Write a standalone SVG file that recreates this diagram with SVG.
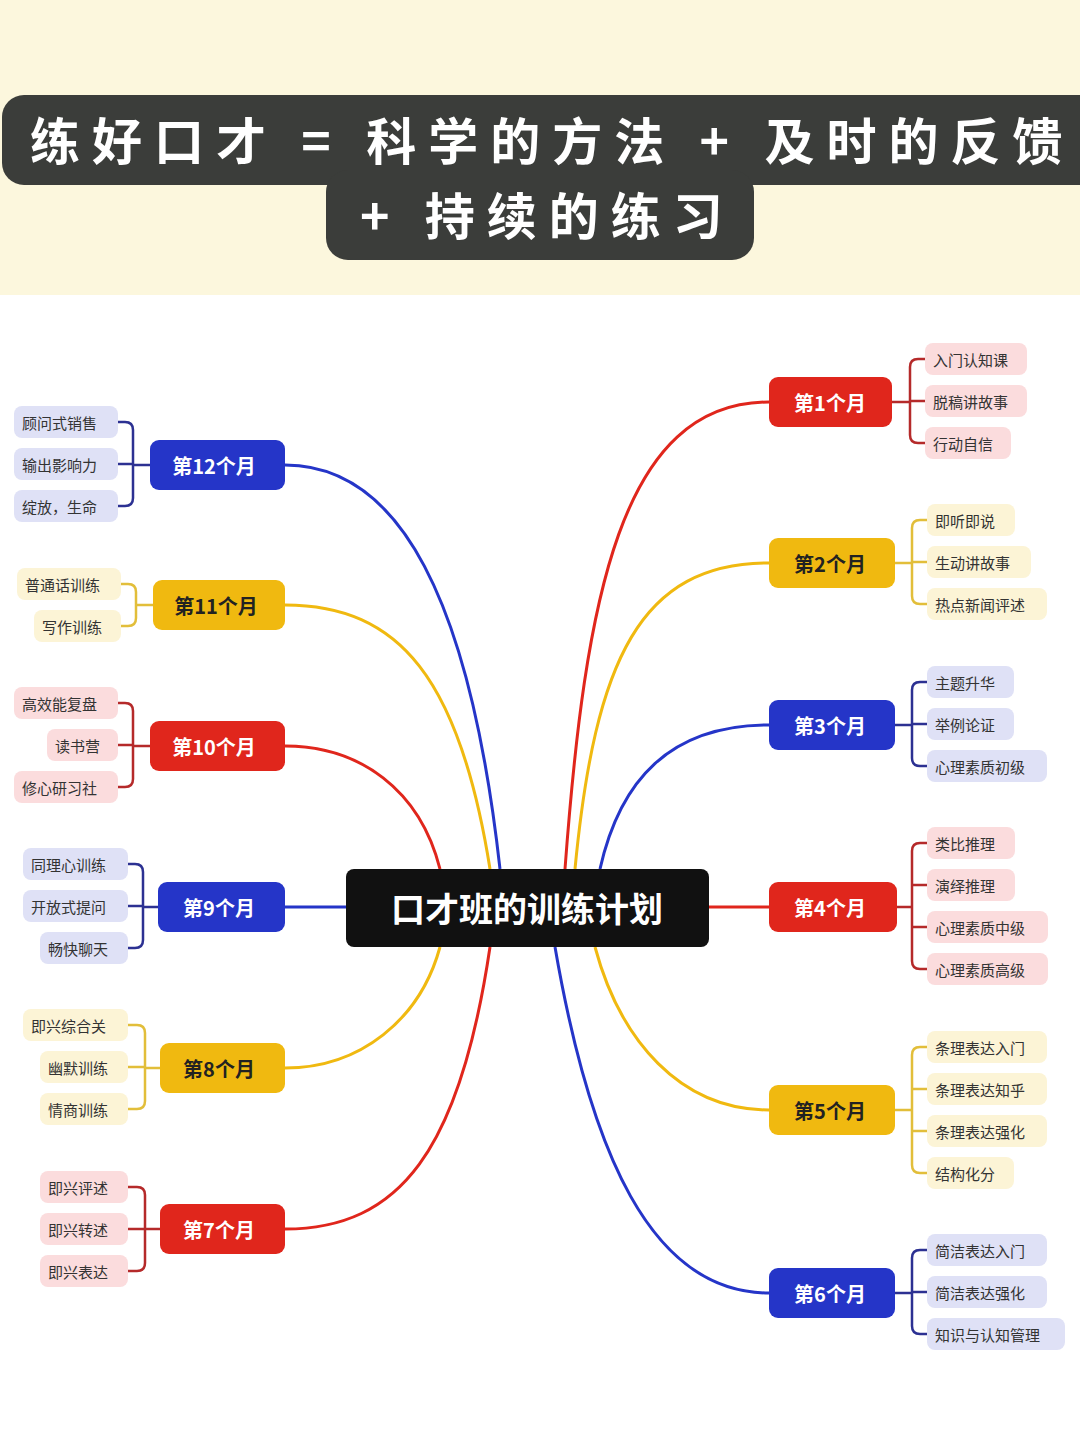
<svg xmlns="http://www.w3.org/2000/svg" width="1080" height="1443" viewBox="0 0 1080 1443">
<style>
.t{font-family:"Noto Sans CJK SC","Noto Sans",sans-serif}
.title{font-size:50px;font-weight:bold;fill:#fff;letter-spacing:12px}
.m{font-size:20px;font-weight:bold;text-anchor:middle;dominant-baseline:central}
.l{font-size:15px;fill:#333;dominant-baseline:central}
.c{fill:none;stroke-width:3}
.b{fill:none;stroke-width:2.5}
.r{stroke:#e0261c}.y{stroke:#f0b910}.u{stroke:#2535c8}
.br{stroke:#b52a2a}.by{stroke:#e2be3a}.bu{stroke:#2c3192}
.lr{fill:#fbdcdd}.ly{fill:#fcf4d6}.lu{fill:#dfe1f6}
</style>
<rect width="1080" height="1443" fill="#fff"/>
<rect width="1080" height="295" fill="#fcf7dd"/>
<g id="title">
<rect x="2" y="95" width="1100" height="90" rx="22" fill="#3b3d3a"/>
<rect x="326" y="170" width="428" height="90" rx="22" fill="#3b3d3a"/>
<text class="t title" x="30" y="160">练好口才 = 科学的方法 + 及时的反馈</text>
<text class="t title" x="360" y="235">+ 持续的练习</text>
</g>
<g id="connectors">
<path class="c r" d="M565 869 C585 600 620 402 769 402"/>
<path class="c y" d="M575 869 C595 660 640 563 769 563"/>
<path class="c u" d="M600 869 C620 780 670 725 769 725"/>
<path class="c r" d="M709 907 H769"/>
<path class="c y" d="M595 947 C620 1040 680 1110 769 1110"/>
<path class="c u" d="M555 947 C590 1150 650 1293 769 1293"/>
<path class="c u" d="M500 869 C470 600 400 465 285 465"/>
<path class="c y" d="M490 869 C460 680 400 605 285 605"/>
<path class="c r" d="M440 869 C420 790 360 746 285 746"/>
<path class="c u" d="M285 907 H346"/>
<path class="c y" d="M440 947 C420 1020 360 1068 285 1068"/>
<path class="c r" d="M490 947 C460 1150 400 1229 285 1229"/>
<!-- right brackets -->
<path class="b br" d="M892 402 H910 M925 359 H918 Q910 359 910 367 V435 Q910 443 918 443 H925 M910 401 H925"/>
<path class="b by" d="M892 563 H912 M927 520 H920 Q912 520 912 528 V596 Q912 604 920 604 H927 M912 562 H927"/>
<path class="b bu" d="M895 725 H912 M927 682 H920 Q912 682 912 690 V758 Q912 766 920 766 H927 M912 724 H927"/>
<path class="b br" d="M897 907 H912 M927 843 H920 Q912 843 912 851 V961 Q912 969 920 969 H927 M912 885 H927 M912 927 H927"/>
<path class="b by" d="M895 1110 H912 M927 1047 H920 Q912 1047 912 1055 V1165 Q912 1173 920 1173 H927 M912 1089 H927 M912 1131 H927"/>
<path class="b bu" d="M895 1293 H912 M927 1250 H920 Q912 1250 912 1258 V1326 Q912 1334 920 1334 H927 M912 1292 H927"/>
<!-- left brackets -->
<path class="b bu" d="M150 465 H133 M118 422 H125 Q133 422 133 430 V498 Q133 506 125 506 H118 M133 464 H118"/>
<path class="b by" d="M153 605 H136 M121 584 H128 Q136 584 136 592 V618 Q136 626 128 626 H121"/>
<path class="b br" d="M150 746 H133 M118 703 H125 Q133 703 133 711 V779 Q133 787 125 787 H118 M133 745 H118"/>
<path class="b bu" d="M158 907 H143 M128 864 H135 Q143 864 143 872 V940 Q143 948 135 948 H128 M143 906 H128"/>
<path class="b by" d="M160 1068 H145 M128 1025 H137 Q145 1025 145 1033 V1101 Q145 1109 137 1109 H128 M145 1067 H128"/>
<path class="b br" d="M160 1229 H145 M128 1187 H137 Q145 1187 145 1195 V1263 Q145 1271 137 1271 H128 M145 1229 H128"/>
</g>
<g id="center"><rect x="346" y="869" width="363" height="78" rx="8" fill="#111"/><text class="t m" x="527" y="907" fill="#fff" style="font-size:34px">口才班的训练计划</text></g>
<g id="m1"><rect x="769" y="377" width="123" height="50" rx="9" fill="#e0261c"/><text class="t m" x="830" y="402" fill="#fff">第1个月</text></g>
<g id="m2"><rect x="769" y="538" width="126" height="50" rx="9" fill="#f0b910"/><text class="t m" x="830" y="563" fill="#222">第2个月</text></g>
<g id="m3"><rect x="769" y="700" width="126" height="50" rx="9" fill="#2535c8"/><text class="t m" x="830" y="725" fill="#fff">第3个月</text></g>
<g id="m4"><rect x="769" y="882" width="128" height="50" rx="9" fill="#e0261c"/><text class="t m" x="830" y="907" fill="#fff">第4个月</text></g>
<g id="m5"><rect x="769" y="1085" width="126" height="50" rx="9" fill="#f0b910"/><text class="t m" x="830" y="1110" fill="#222">第5个月</text></g>
<g id="m6"><rect x="769" y="1268" width="126" height="50" rx="9" fill="#2535c8"/><text class="t m" x="830" y="1293" fill="#fff">第6个月</text></g>
<g id="m12"><rect x="150" y="440" width="135" height="50" rx="9" fill="#2535c8"/><text class="t m" x="214" y="465" fill="#fff">第12个月</text></g>
<g id="m11"><rect x="153" y="580" width="132" height="50" rx="9" fill="#f0b910"/><text class="t m" x="216" y="605" fill="#222">第11个月</text></g>
<g id="m10"><rect x="150" y="721" width="135" height="50" rx="9" fill="#e0261c"/><text class="t m" x="214" y="746" fill="#fff">第10个月</text></g>
<g id="m9"><rect x="158" y="882" width="127" height="50" rx="9" fill="#2535c8"/><text class="t m" x="219" y="907" fill="#fff">第9个月</text></g>
<g id="m8"><rect x="160" y="1043" width="125" height="50" rx="9" fill="#f0b910"/><text class="t m" x="219" y="1068" fill="#222">第8个月</text></g>
<g id="m7"><rect x="160" y="1204" width="125" height="50" rx="9" fill="#e0261c"/><text class="t m" x="219" y="1229" fill="#fff">第7个月</text></g>
<g id="leaves-right">
<g><rect class="lr" x="925" y="343" width="102" height="32" rx="8"/><text class="t l" x="933" y="359">入门认知课</text></g>
<g><rect class="lr" x="925" y="385" width="102" height="32" rx="8"/><text class="t l" x="933" y="401">脱稿讲故事</text></g>
<g><rect class="lr" x="925" y="427" width="86" height="32" rx="8"/><text class="t l" x="933" y="443">行动自信</text></g>
<g><rect class="ly" x="927" y="504" width="88" height="32" rx="8"/><text class="t l" x="935" y="520">即听即说</text></g>
<g><rect class="ly" x="927" y="546" width="104" height="32" rx="8"/><text class="t l" x="935" y="562">生动讲故事</text></g>
<g><rect class="ly" x="927" y="588" width="120" height="32" rx="8"/><text class="t l" x="935" y="604">热点新闻评述</text></g>
<g><rect class="lu" x="927" y="666" width="87" height="32" rx="8"/><text class="t l" x="935" y="682">主题升华</text></g>
<g><rect class="lu" x="927" y="708" width="87" height="32" rx="8"/><text class="t l" x="935" y="724">举例论证</text></g>
<g><rect class="lu" x="927" y="750" width="120" height="32" rx="8"/><text class="t l" x="935" y="766">心理素质初级</text></g>
<g><rect class="lr" x="927" y="827" width="88" height="32" rx="8"/><text class="t l" x="935" y="843">类比推理</text></g>
<g><rect class="lr" x="927" y="869" width="88" height="32" rx="8"/><text class="t l" x="935" y="885">演绎推理</text></g>
<g><rect class="lr" x="927" y="911" width="121" height="32" rx="8"/><text class="t l" x="935" y="927">心理素质中级</text></g>
<g><rect class="lr" x="927" y="953" width="121" height="32" rx="8"/><text class="t l" x="935" y="969">心理素质高级</text></g>
<g><rect class="ly" x="927" y="1031" width="120" height="32" rx="8"/><text class="t l" x="935" y="1047">条理表达入门</text></g>
<g><rect class="ly" x="927" y="1073" width="120" height="32" rx="8"/><text class="t l" x="935" y="1089">条理表达知乎</text></g>
<g><rect class="ly" x="927" y="1115" width="120" height="32" rx="8"/><text class="t l" x="935" y="1131">条理表达强化</text></g>
<g><rect class="ly" x="927" y="1157" width="87" height="32" rx="8"/><text class="t l" x="935" y="1173">结构化分</text></g>
<g><rect class="lu" x="927" y="1234" width="120" height="32" rx="8"/><text class="t l" x="935" y="1250">简洁表达入门</text></g>
<g><rect class="lu" x="927" y="1276" width="120" height="32" rx="8"/><text class="t l" x="935" y="1292">简洁表达强化</text></g>
<g><rect class="lu" x="927" y="1318" width="138" height="32" rx="8"/><text class="t l" x="935" y="1334">知识与认知管理</text></g>
</g>
<g id="leaves-left">
<g><rect class="lu" x="14" y="406" width="104" height="32" rx="8"/><text class="t l" x="22" y="422">顾问式销售</text></g>
<g><rect class="lu" x="14" y="448" width="104" height="32" rx="8"/><text class="t l" x="22" y="464">输出影响力</text></g>
<g><rect class="lu" x="14" y="490" width="104" height="32" rx="8"/><text class="t l" x="22" y="506">绽放，生命</text></g>
<g><rect class="ly" x="17" y="568" width="104" height="32" rx="8"/><text class="t l" x="25" y="584">普通话训练</text></g>
<g><rect class="ly" x="34" y="610" width="87" height="32" rx="8"/><text class="t l" x="42" y="626">写作训练</text></g>
<g><rect class="lr" x="14" y="687" width="104" height="32" rx="8"/><text class="t l" x="22" y="703">高效能复盘</text></g>
<g><rect class="lr" x="47" y="729" width="71" height="32" rx="8"/><text class="t l" x="55" y="745">读书营</text></g>
<g><rect class="lr" x="14" y="771" width="104" height="32" rx="8"/><text class="t l" x="22" y="787">修心研习社</text></g>
<g><rect class="lu" x="23" y="848" width="105" height="32" rx="8"/><text class="t l" x="31" y="864">同理心训练</text></g>
<g><rect class="lu" x="23" y="890" width="105" height="32" rx="8"/><text class="t l" x="31" y="906">开放式提问</text></g>
<g><rect class="lu" x="40" y="932" width="88" height="32" rx="8"/><text class="t l" x="48" y="948">畅快聊天</text></g>
<g><rect class="ly" x="23" y="1009" width="105" height="32" rx="8"/><text class="t l" x="31" y="1025">即兴综合关</text></g>
<g><rect class="ly" x="40" y="1051" width="88" height="32" rx="8"/><text class="t l" x="48" y="1067">幽默训练</text></g>
<g><rect class="ly" x="40" y="1093" width="88" height="32" rx="8"/><text class="t l" x="48" y="1109">情商训练</text></g>
<g><rect class="lr" x="40" y="1171" width="88" height="32" rx="8"/><text class="t l" x="48" y="1187">即兴评述</text></g>
<g><rect class="lr" x="40" y="1213" width="88" height="32" rx="8"/><text class="t l" x="48" y="1229">即兴转述</text></g>
<g><rect class="lr" x="40" y="1255" width="88" height="32" rx="8"/><text class="t l" x="48" y="1271">即兴表达</text></g>
</g>
</svg>
